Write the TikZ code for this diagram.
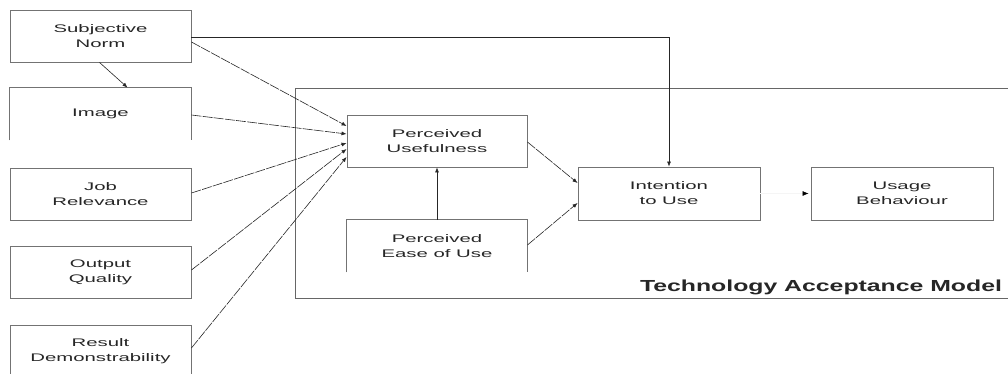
\documentclass[tikz,border=0pt]{standalone}
\usepackage{fontspec}
\setmainfont{Liberation Sans}
\newfontfamily\boxfont[FakeStretch=1.85]{Liberation Sans}
\newfontfamily\titlefont[FakeStretch=1.55]{Liberation Sans}
\usetikzlibrary{arrows.meta}
\begin{document}
\begin{tikzpicture}[x=1pt,y=-1pt,
  box/.style={draw=black!55, line width=0.9pt, minimum width=181pt, minimum height=52pt,
    inner sep=0pt, align=center, font=\boxfont\fontsize{11}{15}\selectfont, text=black!85},
  openbox/.style={box, draw=none},
  conn/.style={draw=black!85, line width=0.6pt, -{Latex[length=5pt,width=4pt]}},
  slant/.style={conn, dash pattern=on 10pt off 1.2pt}]
\useasboundingbox (0,0) rectangle (1008,374);
\clip (0,0) rectangle (1008,374);

% Technology Acceptance Model frame (runs past the right edge)
\draw[draw=black!60, line width=0.9pt] (1020,88) -- (295,88) -- (295,298) -- (1020,298);
\node[font=\titlefont\bfseries\fontsize{16}{18}\selectfont, text=black!85] (tamtitle) at (821,287) {Technology Acceptance Model};

% external variables
\node[box] (sn) at (100.5,36) {Subjective\\Norm};
\node[openbox] (img) at (100.5,114) {Image};
\draw[draw=black!55, line width=0.9pt] (img.south west) -- (img.north west) -- (img.north east) -- (img.south east);
\node[box] (job) at (100.5,194) {Job\\Relevance};
\node[box] (oq) at (100.5,272) {Output\\Quality};
\node[box] (rd) at (100.5,351) {Result\\Demonstrability};

% model constructs
\node[box, minimum width=180pt] (pu) at (437,141) {Perceived\\Usefulness};
\node[openbox, minimum width=180pt] (peou) at (437,246) {Perceived\\Ease of Use};
\draw[draw=black!55, line width=0.9pt] (peou.south west) -- (peou.north west) -- (peou.north east) -- (peou.south east);
\node[box, minimum width=182pt, minimum height=53pt] (int) at (669,193.5) {Intention\\to Use};
\node[box, minimum width=182pt, minimum height=53pt] (use) at (902,193.5) {Usage\\Behaviour};

% connectors
\draw[conn] ([xshift=-1pt]sn.south) -- ([xshift=27pt]img.north);
\draw[conn] ([yshift=-1pt]sn.east) -| (int.north);
\draw[slant] ([yshift=-6pt]sn.east) -- ([yshift=15pt]pu.west);
\draw[slant] ([yshift=-1pt]img.east) -- ([yshift=7pt]pu.west);
\draw[slant] ([yshift=1pt]job.east) -- ([yshift=-2pt]pu.west);
\draw[slant] ([yshift=2pt]oq.east) -- ([yshift=-8pt]pu.west);
\draw[slant] ([yshift=3pt]rd.east) -- ([yshift=-16pt]pu.west);
\draw[conn] (peou.north) -- (pu.south);
\draw[slant] ([yshift=-1pt]pu.east) -- ([yshift=10.5pt]int.west);
\draw[slant] ([yshift=1pt]peou.east) -- ([yshift=-9.5pt]int.west);
\draw[conn, draw=black!4, -{Latex[length=6pt,width=5pt,color=black]}] (int.east) -- ([xshift=-2pt]use.west);
\end{tikzpicture}
\end{document}
